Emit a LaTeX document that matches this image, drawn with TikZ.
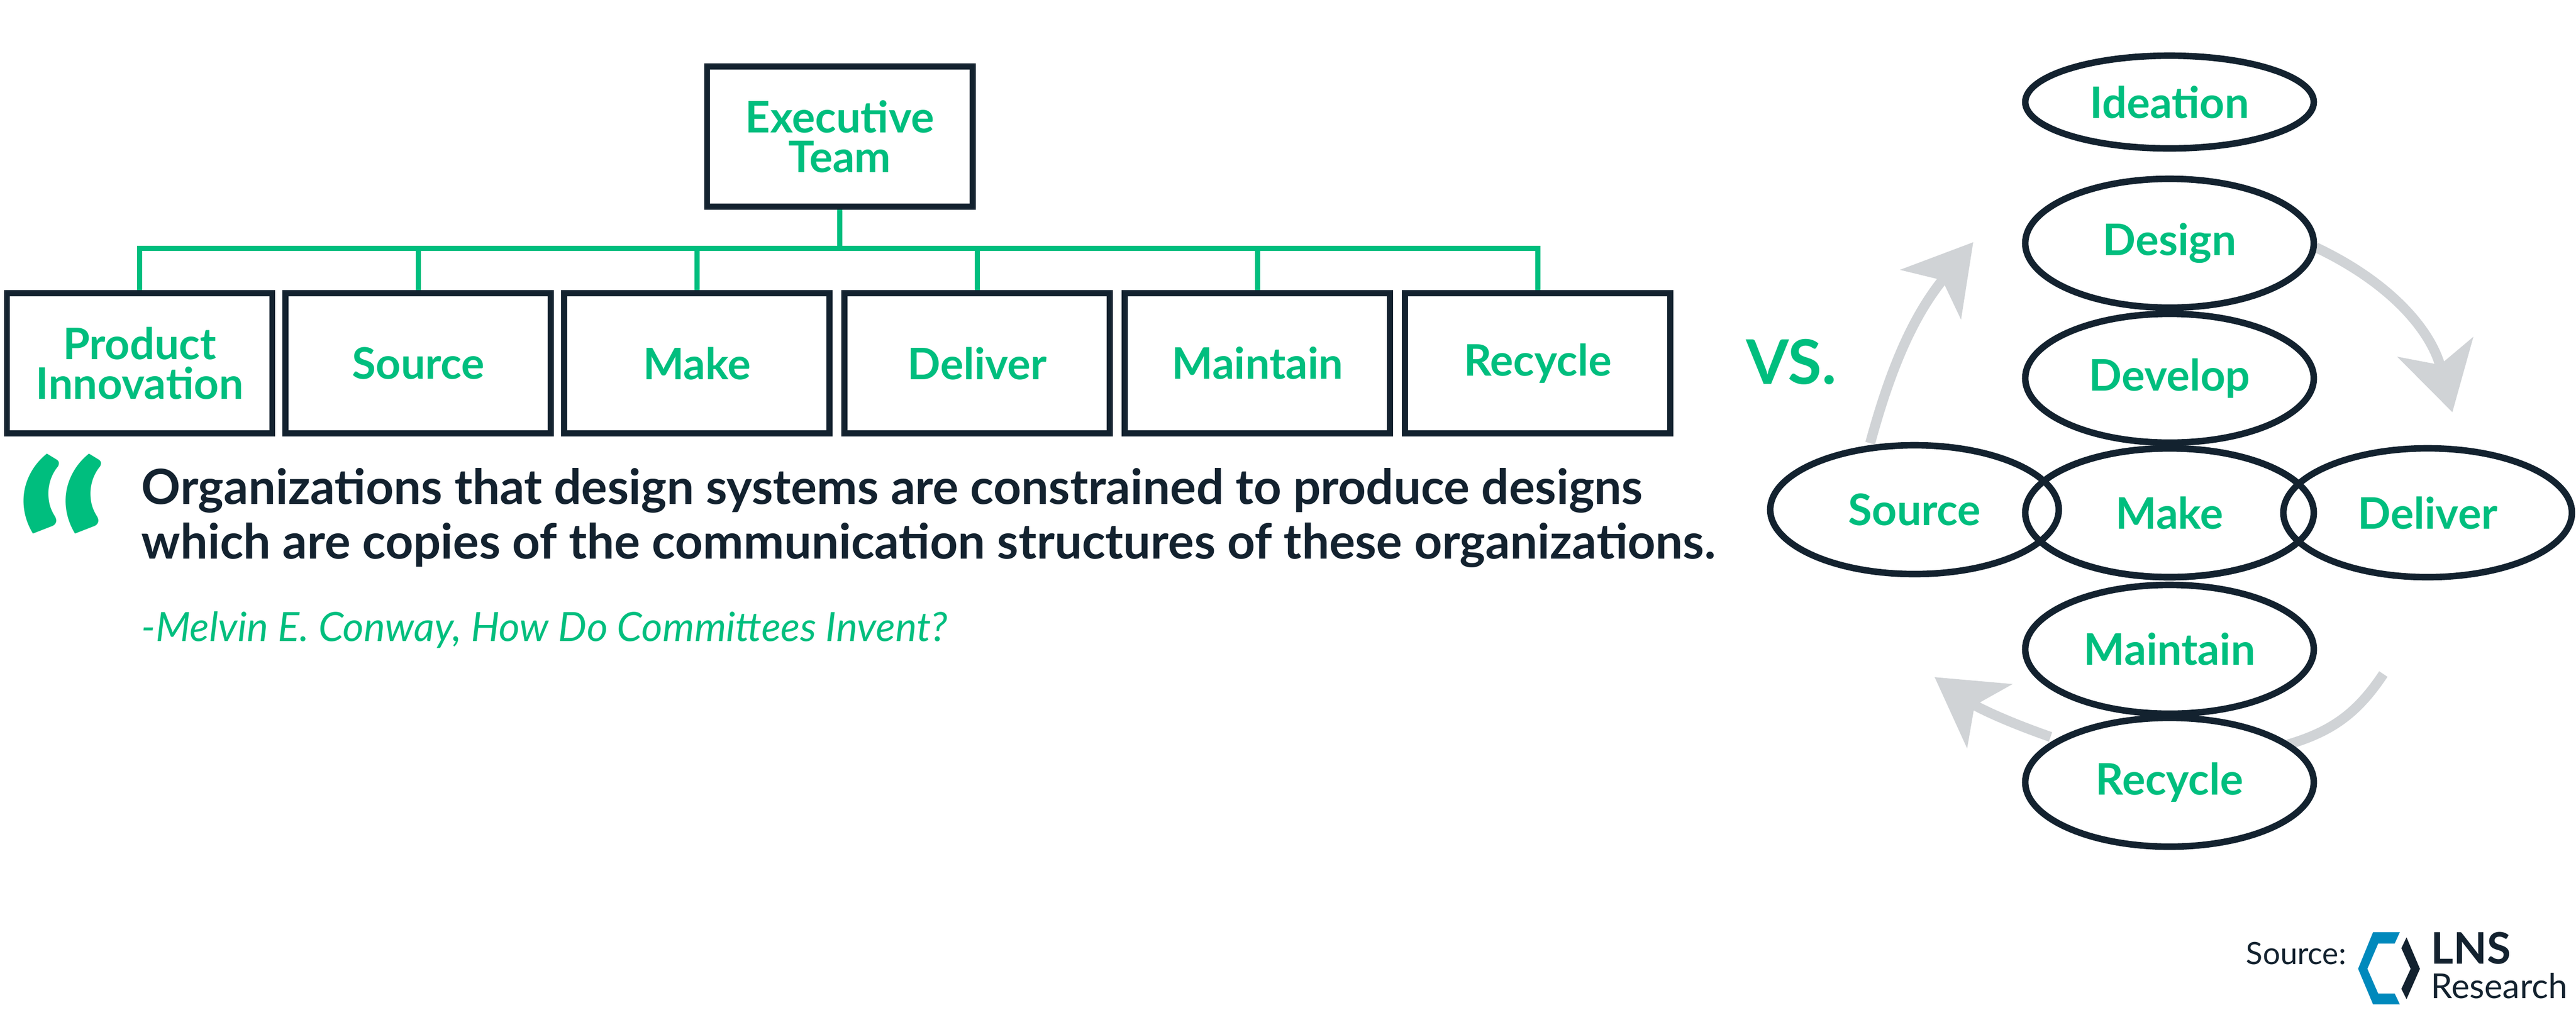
\documentclass[tikz,border=0pt]{standalone}
\usepackage{fontspec}
\setmainfont{Lato}
\usetikzlibrary{shapes.geometric,arrows.meta,positioning}
\definecolor{lnsgreen}{HTML}{00BE7E}
\definecolor{lnsdark}{HTML}{13222F}
\definecolor{lnsgray}{HTML}{D0D3D6}
\definecolor{lnsblue}{HTML}{0089BC}
\tikzstyle{team}  = [rectangle, draw=lnsdark, line width=3.4pt, minimum width=5.15cm, minimum height=2.72cm, text=lnsgreen, font=\fontsize{24}{26}\selectfont\bfseries, align=center]
\tikzstyle{stage} = [ellipse, draw=lnsdark, line width=3.6pt, fill=white, minimum width=5.6cm, minimum height=2.5cm, text=lnsgreen, font=\fontsize{24}{26}\selectfont\bfseries, inner sep=0pt]
\tikzstyle{bus}   = [draw=lnsgreen, line width=3pt]
\tikzstyle{cycle} = [draw=lnsgray, line width=5.5pt, -{Stealth[length=1.3cm, width=1.5cm, inset=0.35cm]}]

\begin{document}
\begin{tikzpicture}
  \useasboundingbox (0,0) rectangle (50,-19.59);
  % org chart
  \node[team] (exec) at (16.30,-2.65) {Executive\\[-4pt]Team};
  \node[team] (innov) at (2.71,-7.05) {Product\\[-4pt]Innovation};
  \node[team, right=0.14cm of innov] (source) {Source};
  \node[team, right=0.14cm of source] (make) {Make};
  \node[team, right=0.17cm of make] (deliver) {Deliver};
  \node[team, right=0.17cm of deliver] (maintain) {Maintain};
  \node[team, right=0.17cm of maintain] (recycle) {Recycle};
  \coordinate (hub) at (16.30,-4.82);
  \path[bus] (exec.south) -- (hub);
  \path[bus] (innov.north) |- (hub) -| (recycle.north);
  \foreach \n in {source,make,deliver,maintain} \path[bus] (\n.north) -- (\n.north |- hub);

  % quote
  \node[text=lnsgreen, font=\fontsize{140}{140}\selectfont\bfseries, anchor=north west, inner sep=0pt] (mark) at (0.25,-8.8) {“};
  \node[anchor=north west, text=lnsdark, font=\fontsize{26.8}{30}\selectfont\bfseries, align=left, inner sep=0pt] (quote) at (2.74,-9.08)
    {Organizations that design systems are constrained to produce designs\\which are copies of the communication structures of these organizations.};
  \node[anchor=west, text=lnsgreen, font=\fontsize{22.3}{24}\selectfont\itshape, inner sep=0pt] (cite) at (2.74,-12.22) {-Melvin E. Conway, How Do Committees Invent?};
  \node[text=lnsgreen, font=\fontsize{34}{36}\selectfont\bfseries] (vs) at (34.77,-7.02) {VS.};

  % cycle arrows
  \coordinate (lefttip) at (38.30,-4.70);
  \coordinate (righttip) at (47.60,-8.00);
  \coordinate (bottomstart) at (46.26,-13.08);
  \coordinate (bottomtip) at (37.55,-13.14);
  \path[cycle] (36.30,-8.60) to[bend left=12] (lefttip);
  \path[cycle] (44.95,-4.80) to[bend left=25] (righttip);
  \path[draw=lnsgray, line width=5.5pt] (bottomstart) to[bend left=20] (44.40,-14.45);
  \path[cycle] (39.80,-14.30) to[bend left=8] (bottomtip);

  % value chain
  \node[stage, minimum height=1.8cm] (ideation) at (42.11,-1.98) {Ideation};
  \node[stage] (design) at (42.11,-4.72) {Design};
  \node[stage] (develop) at (42.11,-7.34) {Develop};
  \node[stage] (cmake) at (42.11,-9.95) {Make};
  \node[stage] (csource) at (37.16,-9.89) {Source};
  \node[stage] (cdeliver) at (47.12,-9.95) {Deliver};
  \node[stage] (cmaintain) at (42.11,-12.60) {Maintain};
  \node[stage] (crecycle) at (42.11,-15.18) {Recycle};
  \draw[lnsdark, line width=3.6pt] (cmake) ellipse (2.8cm and 1.25cm);

  % source logo
  \node[anchor=east, text=lnsdark, font=\fontsize{17}{19}\selectfont, inner sep=0pt] (srclabel) at (45.55,-18.50) {Source:};
  \fill[lnsblue] (46.06,-18.09) -- (46.58,-18.09) -- (46.48,-18.31) -- (46.16,-18.31) -- (45.95,-18.80) -- (46.16,-19.28) -- (46.48,-19.28) -- (46.58,-19.49) -- (46.06,-19.49) -- (45.77,-18.80) -- cycle;
  \fill[lnsdark] (46.71,-18.19) -- (46.97,-18.80) -- (46.71,-19.39) -- (46.61,-19.19) -- (46.79,-18.80) -- (46.61,-18.40) -- cycle;
  \node[anchor=north west, text=lnsdark, font=\fontsize{24}{24}\selectfont\bfseries, inner sep=0pt] (lns) at (47.18,-18.08) {LNS};
  \node[anchor=north west, text=lnsdark, font=\fontsize{19}{19}\selectfont, inner sep=0pt] (research) at (47.18,-18.88) {Research};
\end{tikzpicture}
\end{document}
